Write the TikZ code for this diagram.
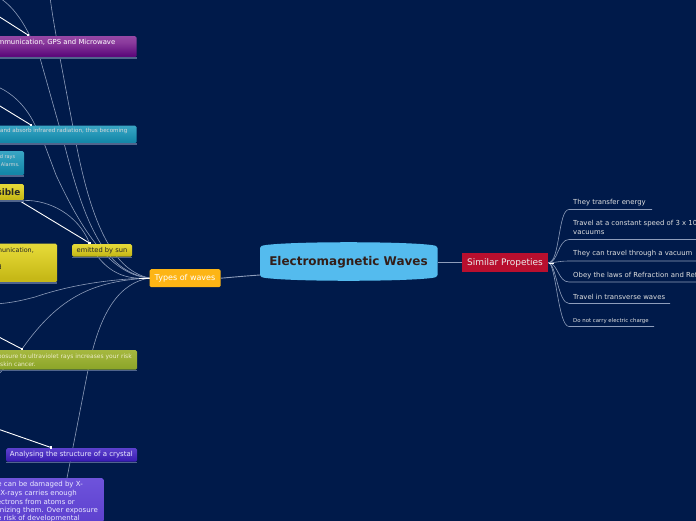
\documentclass[tikz,border=0pt]{standalone}
\usepackage{fontspec}
\setmainfont{DejaVu Sans}
\usetikzlibrary{backgrounds}
\definecolor{bgc}{HTML}{001A4A}
\definecolor{linec}{HTML}{8E9DBB}
\definecolor{ulc}{HTML}{50648C}
\definecolor{pa}{HTML}{9A4AA6}\definecolor{pb}{HTML}{5E0A7C}\definecolor{pc}{HTML}{8A3A9C}\definecolor{pd}{HTML}{A85CB4}
\definecolor{ta}{HTML}{3FA8C4}\definecolor{tb}{HTML}{1487A8}\definecolor{tc}{HTML}{2C9CBC}\definecolor{td}{HTML}{4FB4D0}
\definecolor{ya}{HTML}{D8CC30}\definecolor{yb}{HTML}{C6B817}\definecolor{yc}{HTML}{E0D432}\definecolor{yd}{HTML}{EDE24A}
\definecolor{oa}{HTML}{A8BC3C}\definecolor{ob}{HTML}{8DA62A}\definecolor{oc}{HTML}{9EB238}\definecolor{od}{HTML}{B0C04C}
\definecolor{ba}{HTML}{6A50D4}\definecolor{bb}{HTML}{3C1EB4}\definecolor{bc}{HTML}{5236C4}\definecolor{bd}{HTML}{6A50DC}
\definecolor{va}{HTML}{4A2CC0}\definecolor{vb}{HTML}{7A60E4}
\definecolor{typesc}{HTML}{FDB515}\definecolor{centerc}{HTML}{54BBEE}\definecolor{simc}{HTML}{B80F2E}\definecolor{centert}{HTML}{331E19}
\pgfdeclareverticalshading{shpurple}{100bp}{color(0bp)=(pa);color(12bp)=(pa);color(14bp)=(pb);color(30bp)=(pb);color(60bp)=(pc);color(100bp)=(pd)}
\pgfdeclareverticalshading{shteal}{100bp}{color(0bp)=(ta);color(12bp)=(ta);color(14bp)=(tb);color(30bp)=(tb);color(60bp)=(tc);color(100bp)=(td)}
\pgfdeclareverticalshading{shyellow}{100bp}{color(0bp)=(ya);color(8bp)=(ya);color(10bp)=(yb);color(30bp)=(yb);color(65bp)=(yc);color(100bp)=(yd)}
\pgfdeclareverticalshading{sholive}{100bp}{color(0bp)=(oa);color(12bp)=(oa);color(14bp)=(ob);color(30bp)=(ob);color(60bp)=(oc);color(100bp)=(od)}
\pgfdeclareverticalshading{shblue}{100bp}{color(0bp)=(ba);color(12bp)=(ba);color(14bp)=(bb);color(30bp)=(bb);color(60bp)=(bc);color(100bp)=(bd)}
\pgfdeclareverticalshading{shviolet}{100bp}{color(0bp)=(va);color(100bp)=(vb)}
\tikzset{
  x=1pt,y=-1pt,
  box/.style={rectangle,rounded corners=1.5pt,inner sep=0pt,anchor=north west},
  conn/.style={draw=linec,line width=0.6pt},
  arrowline/.style={draw=white,line width=0.9pt},
  headdot/.style={fill=white,draw=none,rectangle,minimum size=2.6pt,inner sep=0pt},
  tx/.style={font=\fontsize{6.9}{8}\selectfont,inner sep=0pt,text=white,yshift=-0.4pt},
  toptx/.style={tx,anchor=west,text=white!88!black},
  violettx/.style={tx,anchor=east,text=white!92!blue,font=\fontsize{7}{8}\selectfont},
  olivetx/.style={tx,anchor=east,font=\fontsize{6}{7}\selectfont,text=white!85!olive},
  tealtx/.style={tx,anchor=east,text=white!85!black},
  yellowtx/.style={tx,text=black!85,font=\fontsize{6.4}{8}\selectfont},
}
\newcommand{\boxat}[7]{% name x1 y1 x2 y2 shading underline
  \node[box,shading=#6,minimum width=#4pt-#2pt,minimum height=#5pt-#3pt] (#1) at (#2,#3) {};
  \draw[draw=#7,line width=1.2pt] (#2,#5+1) -- (#4,#5+1);
}
\begin{document}
\begin{tikzpicture}
\useasboundingbox (0,0) rectangle (696,520);
\clip (0,0) rectangle (696,520);
% boxes
\boxat{purple}{-20}{36}{136.5}{57}{shpurple}{ulc}
\boxat{teal}{-20}{125.5}{136.5}{143}{shteal}{ulc}
\boxat{tealsmall}{-20}{151}{24}{175}{shteal}{ulc}
\boxat{visible}{-40}{184}{24}{200}{shyellow}{ulc}
\boxat{yellowbig}{-20}{243.5}{57}{282}{shyellow}{ulc}
\boxat{emitted}{72}{244}{132}{256.5}{shyellow}{ulc}
\boxat{olive}{-20}{350}{137}{369.5}{sholive}{ulc}
\boxat{crystal}{6}{448}{137}{461.5}{shblue}{ulc}
\boxat{violet}{-20}{478}{103.5}{540}{shviolet}{ulc}
\node[box,fill=typesc,minimum width=71pt,minimum height=18pt] (types) at (149.5,269) {};
\fill[centerc] (260,248) .. controls (260,246) and (262,245.6) .. (266,245) .. controls (295,241.3) and (402,241.3) .. (431.5,245) .. controls (435.5,245.6) and (437.5,246) .. (437.5,248) -- (437.5,275) .. controls (437.5,277) and (435.5,277.4) .. (431.5,278) .. controls (402,281.7) and (295,281.7) .. (266,278) .. controls (262,277.4) and (260,277) .. (260,275) -- cycle;
\node[inner sep=0pt,minimum width=177pt,minimum height=30pt] (center) at (349,261.5) {};
\node[box,rounded corners=0pt,fill=simc,minimum width=86pt,minimum height=19pt] (similar) at (462,253) {};
% coordinates for free ends
\coordinate (u1) at (569,209.5);\coordinate (u1e) at (652,209.5);
\coordinate (u2) at (569,239.5);\coordinate (u2e) at (700,239.5);
\coordinate (u3) at (569,261);\coordinate (u3e) at (700,261);
\coordinate (u4) at (569,282);\coordinate (u4e) at (700,282);
\coordinate (u5) at (569,303.5);\coordinate (u5e) at (670,303.5);
\coordinate (u6) at (569,326.5);\coordinate (u6e) at (654,326.5);
\coordinate (a1s) at (-5,14);\coordinate (a1e) at (28,35);
\coordinate (a2s) at (-5,103);\coordinate (a2e) at (31,125);
\coordinate (a3s) at (20,201);\coordinate (a3e) at (89.5,243);
\coordinate (a4s) at (-5,335);\coordinate (a4e) at (22,349);
\coordinate (a5s) at (-5,428);\coordinate (a5e) at (51,447.5);
\coordinate (f1) at (50,-3);
\coordinate (f2) at (-2,-3);
\coordinate (f3) at (-2,87);
\coordinate (f4) at (-5,304);
\coordinate (f5) at (-3,376);
\coordinate (tw) at (149.5,278);
\begin{scope}[on background layer]
\fill[bgc] (-5,-5) rectangle (700,525);
\draw[conn] (tw) .. controls (110,270) and (90,215) .. (76,143) -- (60,58) .. controls (57,40) and (53,20) .. (f1);
\draw[conn] (tw) .. controls (105,272) and (85,225) .. (64,143) -- (40,58) -- (30,36) .. controls (22,20) and (12,5) .. (f2);
\draw[conn] (tw) .. controls (105,275) and (75,215) .. (56,175) -- (44,143) -- (35,125) .. controls (27,108) and (14,94) .. (f3);
\draw[conn] (tw) .. controls (125,280) and (110,272) .. (98,257) -- (89.5,243) .. controls (78,215) and (50,200) .. (visible.south east);
\draw[conn] (tw) .. controls (110,279) and (70,285) .. (35,297) .. controls (20,301) and (10,303) .. (f4);
\draw[conn] (tw) .. controls (95,281) and (60,295) .. (a4e) -- (f5);
\draw[conn] (tw) .. controls (120,283) and (100,310) .. (88,370) -- (67,478);
\draw[conn,line width=0.9pt] (260,275) .. controls (245,276) and (235,277) .. (types.east);
\draw[conn,line width=0.9pt] (437.5,262) -- (462,262);
\draw[conn] (similar.east) .. controls (560,263) and (558,209.5) .. (u1) -- (u1e);
\draw[conn] (similar.east) .. controls (558,263) and (558,239.5) .. (u2) -- (u2e);
\draw[conn] (similar.east) .. controls (555,263) and (558,261) .. (u3) -- (u3e);
\draw[conn] (similar.east) .. controls (558,263) and (558,282) .. (u4) -- (u4e);
\draw[conn] (similar.east) .. controls (556,263) and (558,303.5) .. (u5) -- (u5e);
\draw[conn] (similar.east) .. controls (556,263) and (558,326.5) .. (u6) -- (u6e);
\draw[arrowline] (a1s) -- (a1e);
\draw[arrowline] (a2s) -- (a2e);
\draw[arrowline] (a3s) -- (a3e);
\draw[arrowline] (a4s) -- (a4e);
\draw[arrowline] (a5s) -- (a5e);
\draw[white,line width=0.8pt] (139,278) -- (tw);
\draw[white,line width=0.9pt] (549,263) -- (554,263);
\end{scope}
\node[headdot] (h1) at (a1e) {};
\node[headdot] (h2) at (a2e) {};
\node[headdot] (h3) at (a3e) {};
\node[headdot] (h4) at (a4e) {};
\node[headdot] (h5) at (a5e) {};
% texts
\node[tx,anchor=east] (t1) at (115.5,42) {Communication, GPS and Microwave};
\node[tealtx,font=\fontsize{5.6}{7}\selectfont] (t2) at (127.5,131) {and absorb infrared radiation, thus becoming};
\node[tealtx,font=\fontsize{5}{6}\selectfont] (t3) at (15.5,157) {d rays};
\node[tealtx,font=\fontsize{5}{6}\selectfont] (t4) at (20,164) {Alarms.};
\node[tx,anchor=east,font=\fontsize{8.9}{10}\bfseries\selectfont,text=black!85] (t5) at (20.5,191.5) {Visible};
\node[yellowtx,anchor=east] (t6) at (34,250.5) {Communication,};
\node[yellowtx,anchor=east] (t7) at (2,267) {d};
\node[yellowtx,font=\fontsize{6.7}{8}\selectfont] (t8) at (102,250.5) {emitted by sun};
\node[tx,font=\fontsize{8}{10}\selectfont] (t9) at (185,278) {Types of waves};
\node[tx,font=\fontsize{12}{14}\bfseries\selectfont,text=centert] (t10) at (348.5,262) {Electromagnetic Waves};
\node[tx,font=\fontsize{9}{10}\selectfont,text=white!92!black] (t11) at (505,263) {Similar Propeties};
\node[olivetx] (t12) at (132,356) {exposure to ultraviolet rays increases your risk};
\node[olivetx] (t13) at (36,364) {skin cancer.};
\node[tx,anchor=east,text=white!92!blue,font=\fontsize{7}{8}\selectfont] (t14) at (133,454.5) {Analysing the structure of a crystal};
\foreach \n/\x/\y/\s in {v1/83/484/{e can be damaged by X-},v2/77/493.5/{X-rays carries enough},v3/75/501.5/{electrons from atoms or},v4/98/510.5/{ionizing them. Over exposure},v5/80/518.5/{the risk of developmental}}{
  \node[violettx] (\n) at (\x,\y) {\s};
}
\node[toptx] (r1) at (573,202.5) {They transfer energy};
\node[toptx] (r2) at (573,223) {Travel at a constant speed of 3 x 10};
\node[toptx] (r2b) at (573,232) {vacuums};
\node[toptx] (r3) at (573,253.5) {They can travel through a vacuum};
\node[toptx] (r4) at (573,275.5) {Obey the laws of Refraction and Reflection};
\node[toptx] (r5) at (573,296.5) {Travel in transverse waves};
\node[toptx,font=\fontsize{5.4}{6}\selectfont] (r6) at (573,321) {Do not carry electric charge};
\end{tikzpicture}
\end{document}
